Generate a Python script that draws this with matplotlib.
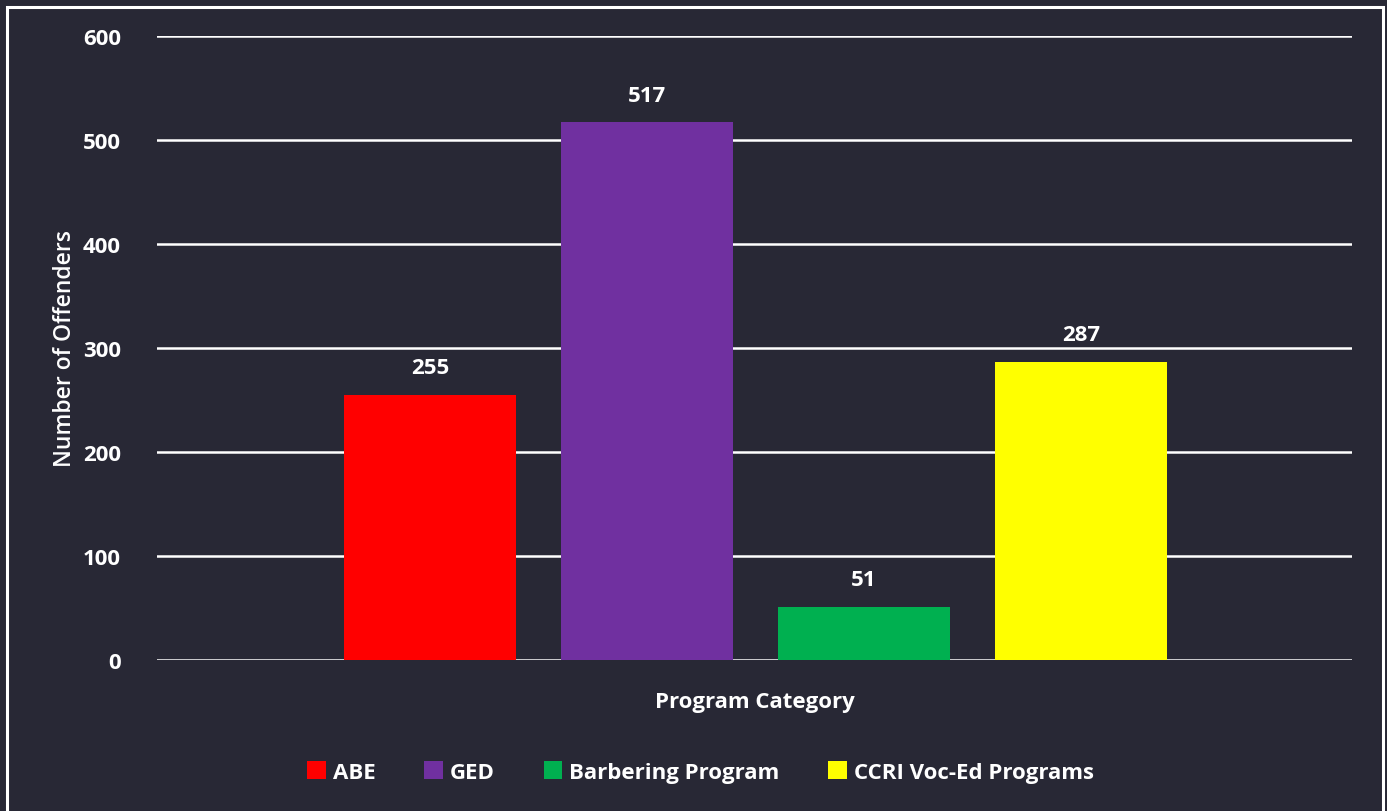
import matplotlib.pyplot as plt
from matplotlib.patches import Rectangle

categories = ['ABE', 'GED', 'Barbering Program', 'CCRI Voc-Ed Programs']
values = [255, 517, 51, 287]
colors = ['#FF0000', '#7030A0', '#00B050', '#FFFF00']
yticks = [0, 100, 200, 300, 400, 500, 600]

bg = '#282835'
plt.rcParams['font.family'] = ['Open Sans', 'DejaVu Sans']

fig = plt.figure(figsize=(13.87, 8.12), dpi=100, facecolor=bg)
ax = fig.add_axes([0.1132, 0.186, 0.8616, 0.7684], facecolor=bg)

bars = ax.bar(range(len(values)), values, width=0.793, color=colors, label=categories, zorder=3)
for b, v in zip(bars, values):
    ax.annotate(str(v), (b.get_x() + b.get_width() / 2, v), xytext=(0, 12),
                textcoords='offset points', ha='center', va='bottom',
                color='white', fontsize=16, fontweight='bold')

ax.set_xlim(-1.26, 4.25)
ax.set_ylim(0, 600)
ax.set_yticks(yticks)
ax.set_xticks([])
ax.grid(axis='y', color='white', linewidth=1.8, zorder=0)
ax.tick_params(axis='y', length=0, pad=26, labelcolor='white', labelsize=16)
for lbl in ax.get_yticklabels():
    lbl.set_fontweight('bold')
for s in ax.spines.values():
    s.set_visible(False)

ax.set_ylabel('Number of Offenders', color='white', fontsize=16.5, fontweight='semibold', labelpad=4)
ax.set_xlabel('Program Category', color='white', fontsize=16, fontweight='bold', labelpad=22)

fig.legend(handles=bars, labels=categories, loc='center', bbox_to_anchor=(0.505, 1 - 773 / 812),
           ncol=4, frameon=False, labelcolor='white', handlelength=0.85, handleheight=0.85,
           handletextpad=0.3, columnspacing=2.2, prop={'size': 16, 'weight': 'bold'})

fig.patches.append(Rectangle((7 / 1387, -0.02), 1376 / 1387, 1.02 - 8 / 812, transform=fig.transFigure,
                             fill=False, edgecolor='white', linewidth=2.2))

fig.savefig('out.png', dpi=100, facecolor=bg)
